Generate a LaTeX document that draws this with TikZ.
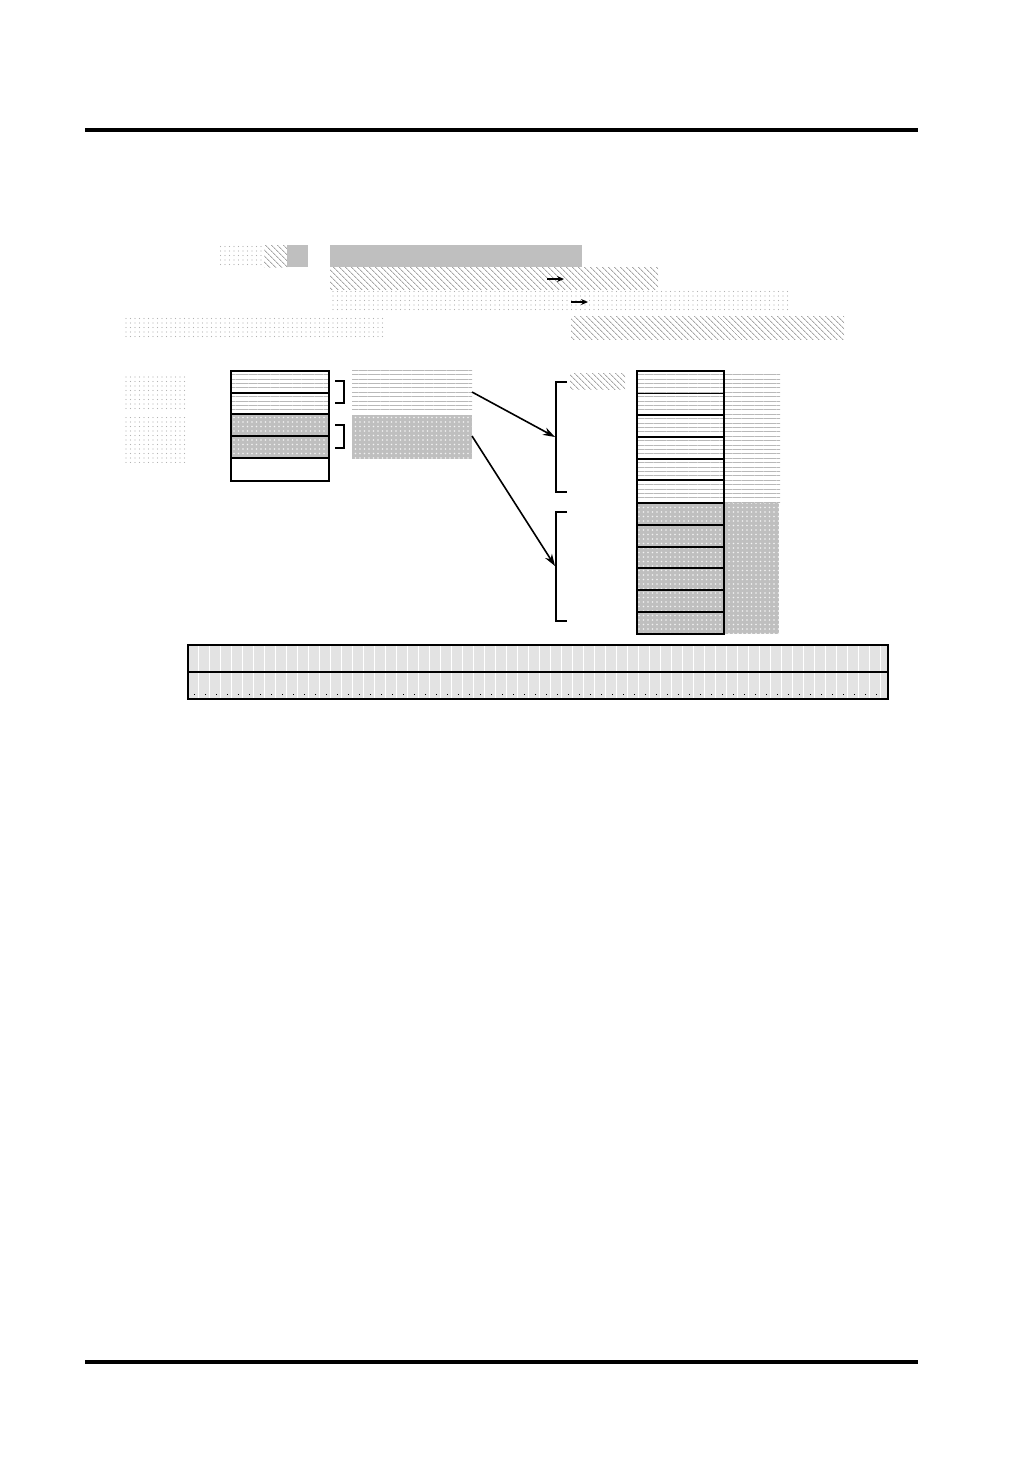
\documentclass[tikz,border=0pt]{standalone}
\usetikzlibrary{patterns.meta,arrows.meta}
\tikzset{
  dotfill/.style={pattern={Dots[distance=4.5pt,radius=0.7pt]},pattern color=gray!60},
  hatchfill/.style={pattern={Lines[angle=-45,distance=4pt,line width=1pt]},pattern color=gray!70},
  linesfill/.style={pattern={Lines[angle=0,distance=4.4pt,line width=0.8pt]},pattern color=gray!55},
  graydots/.style={fill=gray!50,postaction={pattern={Dots[distance=4.5pt,radius=0.8pt]},pattern color=white!90!gray}},
  lightfill/.style={fill=gray!22,postaction={pattern={Lines[angle=90,distance=11pt,line width=0.7pt]},pattern color=white}},
  boxline/.style={line width=1.6pt},
  rowline/.style={line width=1.2pt},
  bracketline/.style={line width=1.3pt},
  bigarrow/.style={line width=1.6pt,-{Stealth[length=12pt,width=8pt]}},
  smallarrow/.style={line width=1.8pt,-{Stealth[length=7pt,width=6pt]}},
  rule/.style={line width=4.5pt}
}
\begin{document}
\begin{tikzpicture}[x=1pt,y=-1pt]
\useasboundingbox (0,0) rectangle (1032,1457);
% rules
\draw[rule] (85,130) -- (918,130);
\draw[line width=4pt] (85,1362) -- (918,1362);
% heading rows
\path[dotfill] (220,245) rectangle (264,267);
\path[hatchfill] (264,245) rectangle (287,267);
\path[fill=gray!50] (287,245) rectangle (308,267);
\path[fill=gray!50] (330,245) rectangle (582,267);
\path[hatchfill] (330,267) rectangle (658,289);
\path[dotfill] (330,289) rectangle (789,311);
\coordinate (sa1s) at (547,279); \coordinate (sa1e) at (564,279);
\coordinate (sa2s) at (571,302); \coordinate (sa2e) at (588,302);
\draw[smallarrow] (sa1s) -- (sa1e);
\draw[smallarrow] (sa2s) -- (sa2e);
\path[dotfill] (125,316) rectangle (383,339);
\path[hatchfill] (571,316) rectangle (844,339);
% left labels
\path[dotfill] (125,374) rectangle (187,410);
\path[dotfill] (125,417) rectangle (187,462);
% left box
\path[linesfill] (231,371) rectangle (329,414);
\path[graydots] (231,414) rectangle (329,458);
\foreach \yy in {393,414,436,458} \draw[rowline] (231,\yy) -- (329,\yy);
\draw[boxline] (231,371) rectangle (329,481);
% brackets left
\draw[bracketline] (335,381) -- (344,381) -- (344,403) -- (335,403);
\draw[bracketline] (335,425) -- (344,425) -- (344,448) -- (335,448);
% text area
\path[linesfill] (352,370) rectangle (472,412);
\path[graydots] (352,415) rectangle (472,459);
% arrows
\coordinate (a1s) at (472,392); \coordinate (a1e) at (555,437);
\coordinate (a2s) at (472,436); \coordinate (a2e) at (555,566);
\draw[bigarrow] (a1s) -- (a1e);
\draw[bigarrow] (a2s) -- (a2e);
% brackets right
\draw[bracketline] (567,382) -- (556,382) -- (556,492) -- (567,492);
\draw[bracketline] (567,512) -- (556,512) -- (556,621) -- (567,621);
\path[hatchfill] (570,373) rectangle (625,389);
% right box
\path[linesfill] (637,371) rectangle (724,503);
\path[graydots] (637,503) rectangle (724,634);
\path[linesfill] (724,371) rectangle (780,503);
\path[graydots] (724,503) rectangle (779,634);
\draw[line width=1pt] (637,393) -- (724,393);
\foreach \yy in {415,437,459,480} \draw[line width=1.6pt] (637,\yy) -- (724,\yy);
\foreach \yy in {503,525,547,568,590,612} \draw[rowline] (637,\yy) -- (724,\yy);
\draw[boxline] (637,371) rectangle (724,634);
% bottom table
\path[lightfill] (188,645) rectangle (888,699);
\draw[line width=1pt,dash pattern=on 1.2pt off 9.8pt] (194,694) -- (886,694);
\draw[rowline] (188,672) -- (888,672);
\draw[boxline] (188,645) rectangle (888,699);
\end{tikzpicture}
\end{document}
